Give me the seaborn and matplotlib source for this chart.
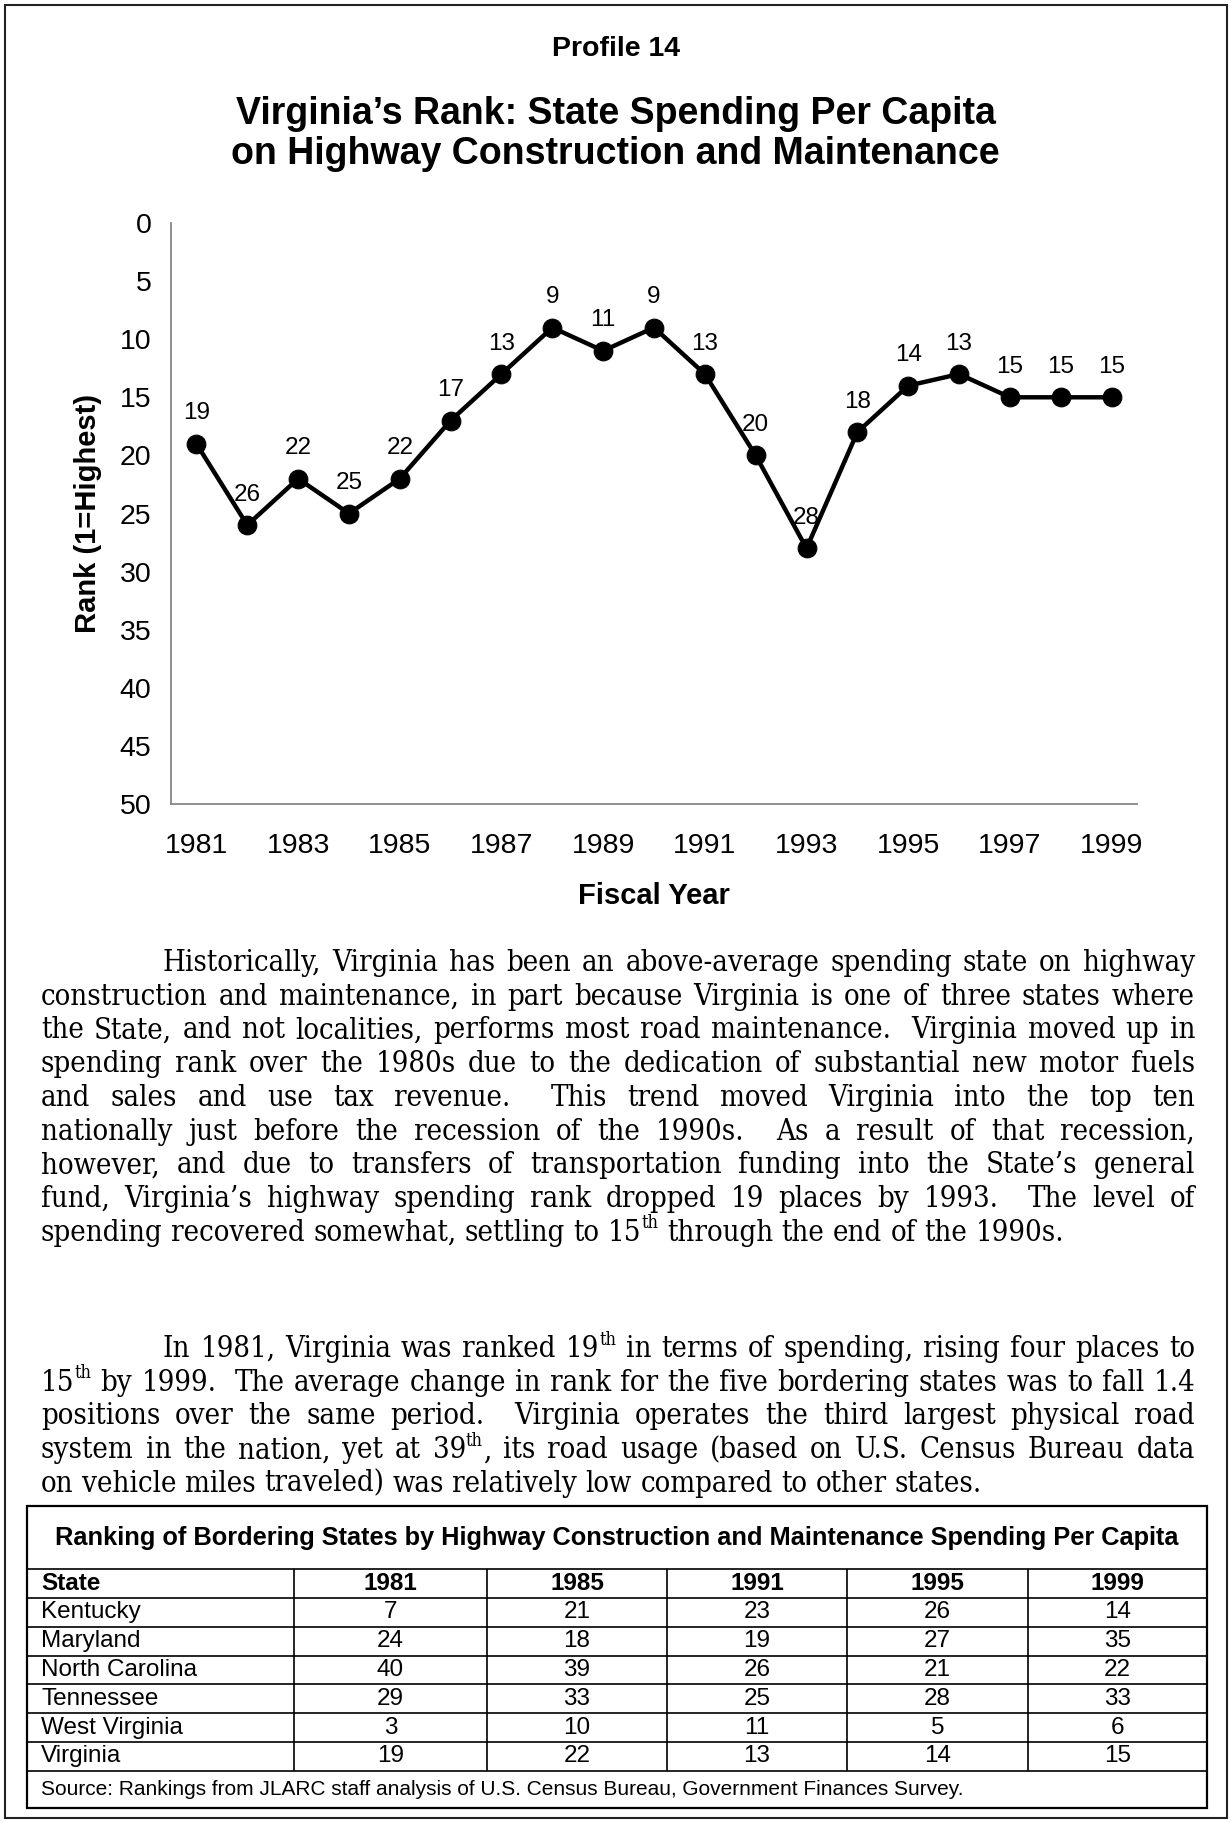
import re
import numpy as np
import pandas as pd
import matplotlib
matplotlib.use("Agg")
import matplotlib.pyplot as plt
import seaborn as sb
from matplotlib.patches import Rectangle

# chart data
years = [1981, 1982, 1983, 1984, 1985, 1986, 1987, 1988, 1989, 1990,
         1991, 1992, 1993, 1994, 1995, 1996, 1997, 1998, 1999]
ranks = [19, 26, 22, 25, 22, 17, 13, 9, 11, 9, 13, 20, 28, 18, 14, 13, 15, 15, 15]
rank_ticks = [0, 5, 10, 15, 20, 25, 30, 35, 40, 45, 50]

# table data
table_title = "Ranking of Bordering States by Highway Construction and Maintenance Spending Per Capita"
table_years = ["1981", "1985", "1991", "1995", "1999"]
states = ["Kentucky", "Maryland", "North Carolina", "Tennessee", "West Virginia", "Virginia"]
kentucky = [7, 21, 23, 26, 14]
maryland = [24, 18, 19, 27, 35]
north_carolina = [40, 39, 26, 21, 22]
tennessee = [29, 33, 25, 28, 33]
west_virginia = [3, 10, 11, 5, 6]
virginia = [19, 22, 13, 14, 15]
source_note = "Source: Rankings from JLARC staff analysis of U.S. Census Bureau, Government Finances Survey."

# body text (^ marks superscript parts)
para1 = [
    "Historically, Virginia has been an above-average spending state on highway",
    "construction and maintenance, in part because Virginia is one of three states where",
    "the State, and not localities, performs most road maintenance.  Virginia moved up in",
    "spending rank over the 1980s due to the dedication of substantial new motor fuels",
    "and sales and use tax revenue.  This trend moved Virginia into the top ten",
    "nationally just before the recession of the 1990s.  As a result of that recession,",
    "however, and due to transfers of transportation funding into the State\u2019s general",
    "fund, Virginia\u2019s highway spending rank dropped 19 places by 1993.  The level of",
    "spending recovered somewhat, settling to 15^th^ through the end of the 1990s.",
]
para2 = [
    "In 1981, Virginia was ranked 19^th^ in terms of spending, rising four places to",
    "15^th^ by 1999.  The average change in rank for the five bordering states was to fall 1.4",
    "positions over the same period.  Virginia operates the third largest physical road",
    "system in the nation, yet at 39^th^, its road usage (based on U.S. Census Bureau data",
    "on vehicle miles traveled) was relatively low compared to other states.",
]

sb.set_style("white")
plt.rcParams["font.family"] = ["Liberation Sans", "DejaVu Sans"]
plt.rcParams["text.color"] = "black"
plt.rcParams["axes.labelcolor"] = "black"
plt.rcParams["xtick.color"] = "black"
plt.rcParams["ytick.color"] = "black"
SERIF = dict(family=["DejaVu Serif"], fontstretch="condensed")

W, H = 1231, 1823
fig = plt.figure(figsize=(W / 100, H / 100), dpi=100)
page = fig.add_axes([0, 0, 1, 1])
page.set_xlim(0, W)
page.set_ylim(H, 0)
page.axis("off")

page.add_patch(Rectangle((5, 5), 1222, 1813, fill=False, edgecolor="#222222", linewidth=1.5))

page.text(W / 2, 49, "Profile 14", ha="center", va="center", fontsize=20.5, fontweight="bold")
page.text(W / 2, 114, "Virginia\u2019s Rank: State Spending Per Capita", ha="center", va="center",
          fontsize=27, fontweight="bold")
page.text(W / 2, 154, "on Highway Construction and Maintenance", ha="center", va="center",
          fontsize=27, fontweight="bold")

# ---- line chart ----
ax = fig.add_axes([171 / W, 1 - 804 / H, (1137 - 171) / W, (804 - 223) / H])
ax.patch.set_alpha(0)
df = pd.DataFrame({"pos": np.arange(len(years)), "year": years, "rank": ranks})
sb.lineplot(data=df, x="pos", y="rank", color="black", linewidth=3.2, marker="o",
            markersize=13.5, markeredgecolor="black", ax=ax)
for p, r in zip(df["pos"], df["rank"]):
    ax.annotate(str(r), (p, r), xytext=(0, 22), textcoords="offset points",
                ha="center", va="center", fontsize=17.5)
ax.set_xlim(-0.5, len(years) - 0.5)
ax.set_ylim(50, 0)
ax.set_yticks(rank_ticks)
ax.set_xticks(df["pos"][::2])
ax.set_xticklabels(df["year"][::2])
ax.tick_params(axis="both", length=0, labelsize=20.5)
ax.tick_params(axis="y", pad=14)
ax.tick_params(axis="x", pad=21)
for s in ["top", "right"]:
    ax.spines[s].set_visible(False)
for s in ["left", "bottom"]:
    ax.spines[s].set_color("#868686")
    ax.spines[s].set_linewidth(1.3)
ax.set_xlabel("Fiscal Year", fontsize=21, fontweight="bold")
ax.xaxis.set_label_coords(0.5, -(896 - 804) / (804 - 223))
ax.xaxis.label.set_va("center")
ax.set_ylabel("Rank (1=Highest)", fontsize=21, fontweight="bold")
ax.yaxis.set_label_coords((88 - 171) / (1137 - 171), 0.5)
ax.yaxis.label.set_va("center")

# ---- justified paragraphs ----
renderer = fig.canvas.get_renderer()


def text_w(s, size):
    t = page.text(0, 0, s, fontsize=size, **SERIF)
    w = t.get_window_extent(renderer).width
    t.remove()
    return w


def word_w(word, size):
    w = 0
    for i, part in enumerate(word.split("^")):
        if part:
            w += text_w(part, size if i % 2 == 0 else size * 0.62)
    return w


def draw_word(x, y, word, size):
    for i, part in enumerate(word.split("^")):
        if not part:
            continue
        if i % 2 == 0:
            page.text(x, y, part, fontsize=size, va="baseline", **SERIF)
            x += text_w(part, size)
        else:
            page.text(x, y - size * 0.42 * 100 / 72, part, fontsize=size * 0.62,
                      va="baseline", **SERIF)
            x += text_w(part, size * 0.62)


LEFT, RIGHT, INDENT = 41, 1195, 163


def split_line(line):
    chunks = re.split(r"( +)", line)
    words = chunks[0::2]
    gaps = [len(g) for g in chunks[1::2]]
    return words, gaps


base = 20.0
space = text_w("n n", base) - text_w("nn", base)
ratio = 0
for para in [para1, para2]:
    for i, line in enumerate(para[:-1]):
        words, gaps = split_line(line)
        x0 = INDENT if i == 0 else LEFT
        nat = sum(word_w(w, base) for w in words) + sum(gaps) * space
        ratio = max(ratio, nat / (RIGHT - x0))
fs = min(22, base * 0.985 / ratio)
space = text_w("n n", fs) - text_w("nn", fs)


def draw_paragraph(lines, y0, step):
    for i, line in enumerate(lines):
        words, gaps = split_line(line)
        x = INDENT if i == 0 else LEFT
        widths = [word_w(w, fs) for w in words]
        if i < len(lines) - 1:
            unit = (RIGHT - x - sum(widths)) / sum(gaps)
        else:
            unit = space
        y = y0 + i * step
        for k, w in enumerate(words):
            draw_word(x, y, w, fs)
            x += widths[k]
            if k < len(gaps):
                x += gaps[k] * unit


draw_paragraph(para1, 971, 33.7)
draw_paragraph(para2, 1357, 33.7)

# ---- table ----
rows = [kentucky, maryland, north_carolina, tennessee, west_virginia, virginia]
col_edges = [27, 294, 487, 667, 847, 1028, 1207]
t_top, title_bot, head_bot, row_h = 1506, 1569, 1598, 28.8
body_bot = head_bot + row_h * len(states)
t_bot = 1808
lw = 1.2

page.add_patch(Rectangle((col_edges[0], t_top), col_edges[-1] - col_edges[0], t_bot - t_top,
                         fill=False, edgecolor="black", linewidth=1.6))
page.hlines([title_bot, head_bot] + [head_bot + row_h * (k + 1) for k in range(len(states))],
            col_edges[0], col_edges[-1], color="black", linewidth=lw)
page.vlines(col_edges[1:-1], title_bot, body_bot, color="black", linewidth=lw)

page.text((col_edges[0] + col_edges[-1]) / 2, (t_top + title_bot) / 2, table_title,
          ha="center", va="center", fontsize=18.3, fontweight="bold")
hy = (title_bot + head_bot) / 2
page.text(col_edges[0] + 14, hy, "State", ha="left", va="center", fontsize=17.5,
          fontweight="bold")
for c, yr in enumerate(table_years):
    page.text((col_edges[c + 1] + col_edges[c + 2]) / 2, hy, yr, ha="center", va="center",
              fontsize=17.5, fontweight="bold")
for r, (st, vals) in enumerate(zip(states, rows)):
    ry = head_bot + row_h * (r + 0.5)
    page.text(col_edges[0] + 14, ry, st, ha="left", va="center", fontsize=17.5)
    for c, v in enumerate(vals):
        page.text((col_edges[c + 1] + col_edges[c + 2]) / 2, ry, str(v), ha="center",
                  va="center", fontsize=17.5)
page.text(col_edges[0] + 14, (body_bot + t_bot) / 2, source_note, ha="left", va="center",
          fontsize=15)

fig.savefig("out.png", dpi=100)
